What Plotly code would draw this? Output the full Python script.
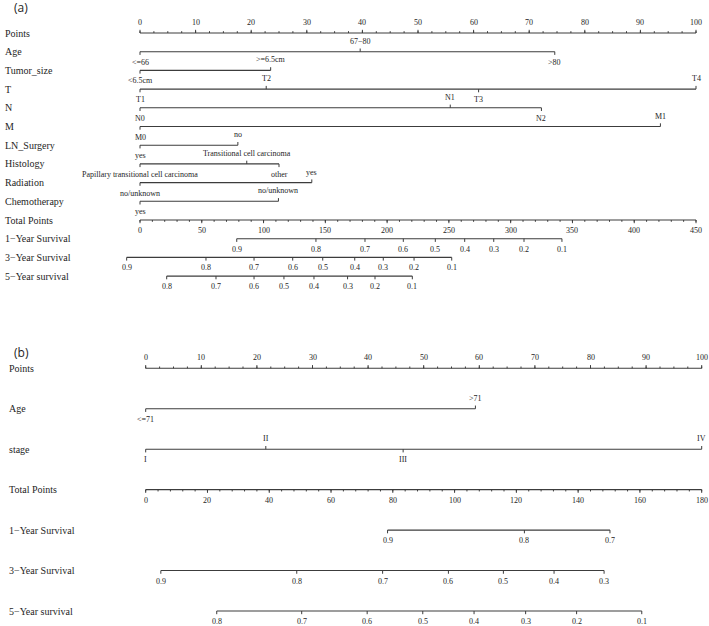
import plotly.graph_objects as go

W, H = 709, 626

# ---------------- Panel (a) data ----------------
a_points_ticks = [0, 10, 20, 30, 40, 50, 60, 70, 80, 90, 100]
a_points_minor_step = 2.5
a_total_ticks = [0, 50, 100, 150, 200, 250, 300, 350, 400, 450]
a_total_minor_step = 10

a_age_labels = ["<=66", "67−80", ">80"]
a_age_points = [0, 39.6, 74.6]
a_tumor_labels = ["<6.5cm", ">=6.5cm"]
a_tumor_points = [0, 23.5]
a_t_labels = ["T1", "T2", "T3", "T4"]
a_t_points = [0, 22.7, 60.9, 100]
a_n_labels = ["N0", "N1", "N2"]
a_n_points = [0, 55.8, 72.2]
a_m_labels = ["M0", "M1"]
a_m_points = [0, 93.6]
a_ln_labels = ["yes", "no"]
a_ln_points = [0, 17.6]
a_hist_labels = ["Papillary transitional cell carcinoma", "Transitional cell carcinoma", "other"]
a_hist_points = [0, 19.2, 25.0]
a_rad_labels = ["no/unknown", "yes"]
a_rad_points = [0, 30.9]
a_chemo_labels = ["yes", "no/unknown"]
a_chemo_points = [0, 24.9]

a_surv1_prob = [0.9, 0.8, 0.7, 0.6, 0.5, 0.4, 0.3, 0.2, 0.1]
a_surv1_total = [78.3, 142.4, 182.1, 213.1, 239.0, 262.8, 286.3, 310.8, 341.5]
a_surv3_prob = [0.9, 0.8, 0.7, 0.6, 0.5, 0.4, 0.3, 0.2, 0.1]
a_surv3_total = [-10.8, 53.4, 92.3, 123.6, 147.9, 173.8, 196.9, 221.8, 252.3]
a_surv5_prob = [0.8, 0.7, 0.6, 0.5, 0.4, 0.3, 0.2, 0.1]
a_surv5_total = [21.6, 61.5, 92.3, 116.5, 140.8, 168.0, 190.2, 220.4]

# ---------------- Panel (b) data ----------------
b_points_ticks = [0, 10, 20, 30, 40, 50, 60, 70, 80, 90, 100]
b_points_minor_step = 2.5
b_total_ticks = [0, 20, 40, 60, 80, 100, 120, 140, 160, 180]
b_total_minor_step = 4

b_age_labels = ["<=71", ">71"]
b_age_points = [0, 59.3]
b_stage_labels = ["I", "II", "III", "IV"]
b_stage_points = [0, 21.6, 46.3, 100]

b_surv1_prob = [0.9, 0.8, 0.7]
b_surv1_total = [78.3, 122.6, 150.3]
b_surv3_prob = [0.9, 0.8, 0.7, 0.6, 0.5, 0.4, 0.3]
b_surv3_total = [4.9, 48.9, 76.7, 98.0, 115.8, 132.2, 148.4]
b_surv5_prob = [0.8, 0.7, 0.6, 0.5, 0.4, 0.3, 0.2, 0.1]
b_surv5_total = [23.0, 50.5, 71.7, 89.7, 106.3, 123.0, 139.5, 160.6]

LINE_COLOR = "#3c3c3c"
TEXT_COLOR = "#1e1e1e"
SERIF = "Liberation Serif, Times New Roman, serif"

fig = go.Figure()
annotations = []


def build_panel(xref, yref, px_row, label_x_px, variables, point_ticks, point_minor,
                total_ticks, total_minor, survivals):
    tl_major = 3.2 / px_row
    tl_minor = 1.8 / px_row
    off = 10.5 / px_row
    lx, ly = [], []
    tx, ty = [], []
    row_names = []

    def tick(x, y, length, direction):
        tx.extend([x, x, None])
        ty.extend([y, y + direction * length, None])

    def label(x, y, text, direction):
        annotations.append(dict(x=x, y=y + direction * off, xref=xref, yref=yref, text=text,
                                showarrow=False, xanchor="center", yanchor="middle",
                                font=dict(family=SERIF, size=8, color=TEXT_COLOR)))

    row = 0
    # Points axis (labels above)
    row_names.append(("Points", row))
    lx.extend([point_ticks[0], point_ticks[-1], None]); ly.extend([row, row, None])
    n = int(round((point_ticks[-1] - point_ticks[0]) / point_minor))
    for k in range(n + 1):
        tick(point_ticks[0] + k * point_minor, row, tl_minor, -1)
    for v in point_ticks:
        tick(v, row, tl_major, -1)
        label(v, row, f"{v:g}", -1)
    row += 1

    # Variable axes
    for name, labels, pts in variables:
        row_names.append((name, row))
        lx.extend([min(pts), max(pts), None]); ly.extend([row, row, None])
        order = sorted(range(len(pts)), key=lambda i: pts[i])
        for rank, i in enumerate(order):
            d = 1 if rank % 2 == 0 else -1
            tick(pts[i], row, tl_major, d)
            label(pts[i], row, labels[i], d)
        row += 1

    # Total points axis (labels below)
    tmax = total_ticks[-1]
    to_pts = lambda t: t * 100.0 / tmax
    row_names.append(("Total Points", row))
    lx.extend([to_pts(total_ticks[0]), to_pts(total_ticks[-1]), None]); ly.extend([row, row, None])
    n = int(round((total_ticks[-1] - total_ticks[0]) / total_minor))
    for k in range(n + 1):
        tick(to_pts(total_ticks[0] + k * total_minor), row, tl_minor, 1)
    for v in total_ticks:
        tick(to_pts(v), row, tl_major, 1)
        label(to_pts(v), row, f"{v:g}", 1)
    row += 1

    # Survival axes (labels below)
    for name, probs, totals in survivals:
        row_names.append((name, row))
        xs = [to_pts(t) for t in totals]
        lx.extend([min(xs), max(xs), None]); ly.extend([row, row, None])
        for p, x in zip(probs, xs):
            tick(x, row, tl_major, 1)
            label(x, row, f"{p:g}", 1)
        row += 1

    common = dict(xaxis=xref, yaxis=yref, hoverinfo="skip", showlegend=False)
    fig.add_trace(go.Scatter(x=lx, y=ly, mode="lines",
                             line=dict(color=LINE_COLOR, width=1.1), **common))
    fig.add_trace(go.Scatter(x=tx, y=ty, mode="lines",
                             line=dict(color=LINE_COLOR, width=1), **common))
    for name, r in row_names:
        annotations.append(dict(x=label_x_px / W, xref="paper", y=r, yref=yref,
                                text=name, showarrow=False, xanchor="left", yanchor="middle",
                                font=dict(family=SERIF, size=10, color=TEXT_COLOR)))


vars_a = [
    ("Age", a_age_labels, a_age_points),
    ("Tumor_size", a_tumor_labels, a_tumor_points),
    ("T", a_t_labels, a_t_points),
    ("N", a_n_labels, a_n_points),
    ("M", a_m_labels, a_m_points),
    ("LN_Surgery", a_ln_labels, a_ln_points),
    ("Histology", a_hist_labels, a_hist_points),
    ("Radiation", a_rad_labels, a_rad_points),
    ("Chemotherapy", a_chemo_labels, a_chemo_points),
]
surv_a = [
    ("1−Year Survival", a_surv1_prob, a_surv1_total),
    ("3−Year Survival", a_surv3_prob, a_surv3_total),
    ("5−Year survival", a_surv5_prob, a_surv5_total),
]
vars_b = [
    ("Age", b_age_labels, b_age_points),
    ("stage", b_stage_labels, b_stage_points),
]
surv_b = [
    ("1−Year Survival", b_surv1_prob, b_surv1_total),
    ("3−Year Survival", b_surv3_prob, b_surv3_total),
    ("5−Year survival", b_surv5_prob, b_surv5_total),
]

# geometry (pixels)
A_X0, A_X100 = 140.0, 696.0
B_X0, B_X100 = 145.7, 701.7
A_ROW0, A_PX = 33.0, 18.7
B_ROW0, B_PX = 368.3, 40.45
SPLIT = 335.0

build_panel("x", "y", A_PX, 3, vars_a, a_points_ticks, a_points_minor_step,
            a_total_ticks, a_total_minor_step, surv_a)
build_panel("x2", "y2", B_PX, 7, vars_b, b_points_ticks, b_points_minor_step,
            b_total_ticks, b_total_minor_step, surv_b)

ppa = (A_X100 - A_X0) / 100.0
ppb = (B_X100 - B_X0) / 100.0

annotations.append(dict(x=12 / W, xref="paper", y=1 - 8 / H, yref="paper", text="(a)",
                        showarrow=False, xanchor="left", yanchor="middle",
                        font=dict(family="Open Sans, Liberation Sans, sans-serif", size=12, color=TEXT_COLOR)))
annotations.append(dict(x=12 / W, xref="paper", y=1 - 352 / H, yref="paper", text="(b)",
                        showarrow=False, xanchor="left", yanchor="middle",
                        font=dict(family="Open Sans, Liberation Sans, sans-serif", size=12, color=TEXT_COLOR)))

hidden = dict(visible=False, showgrid=False, zeroline=False, fixedrange=True)
fig.update_layout(
    width=W, height=H,
    margin=dict(l=0, r=0, t=0, b=0),
    paper_bgcolor="white", plot_bgcolor="white",
    showlegend=False,
    xaxis=dict(domain=[0, 1], range=[-A_X0 / ppa, (W - A_X0) / ppa], anchor="y", **hidden),
    yaxis=dict(domain=[1 - SPLIT / H, 1], range=[(SPLIT - A_ROW0) / A_PX, -A_ROW0 / A_PX],
               anchor="x", **hidden),
    xaxis2=dict(domain=[0, 1], range=[-B_X0 / ppb, (W - B_X0) / ppb], anchor="y2", **hidden),
    yaxis2=dict(domain=[0, 1 - SPLIT / H], range=[(H - B_ROW0) / B_PX, (SPLIT - B_ROW0) / B_PX],
                anchor="x2", **hidden),
    annotations=annotations,
)

fig.write_html(
    "out.html", config={"staticPlot": True},
    post_script=("document.body.style.margin='0';document.body.style.overflow='hidden';"
                 "var gd=document.getElementById('{plot_id}');if(gd){gd.style.opacity='0.999';}"),
)
